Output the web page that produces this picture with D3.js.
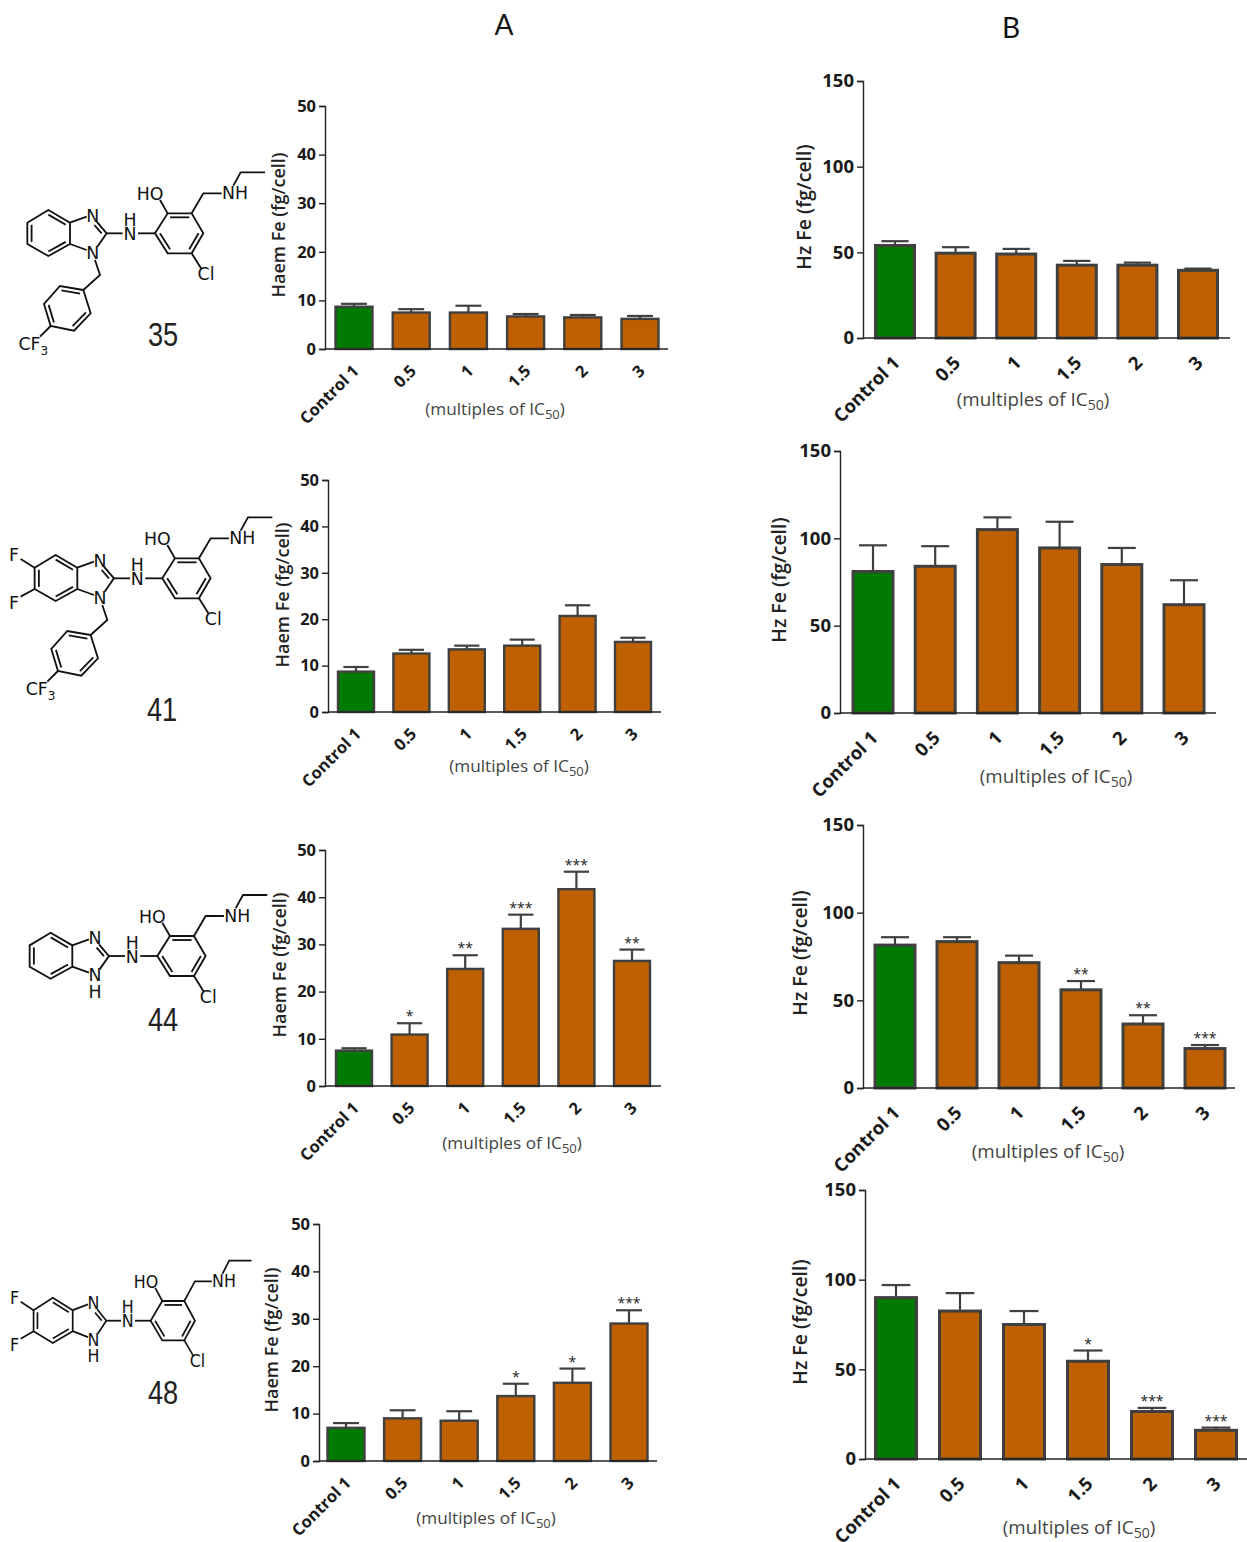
<!DOCTYPE html>
<html>
<head>
  <meta charset="utf-8">
  <title>Haem Fe and Hz Fe</title>
  <style>
    html, body { margin: 0; padding: 0; background: #fff; }
    svg { display: block; }
    text { font-family: "Open Sans", sans-serif; }
    .tick text { font-weight: 700; fill: #1a1a1a; }
    .ytitle { font-weight: 600; fill: #222; text-anchor: middle; }
    .xtitle { fill: #444; text-anchor: middle; }
    .star { font-size: 14px; fill: #222; text-anchor: middle; }
    .col { font-size: 28px; fill: #111; text-anchor: middle; font-family: Lato, sans-serif; }
    .num { font-size: 34px; fill: #222; text-anchor: middle; font-family: "Liberation Sans", sans-serif; }
    .atom { font-size: 52px; fill: #111; text-anchor: middle; font-family: "DejaVu Sans", sans-serif; }
    .sub { font-size: 36px; }
  </style>
</head>
<body>
  <svg id="chart" width="1247" height="1542"></svg>

  <script src="https://d3js.org/d3.v7.min.js"></script>
  <script>
    // categories
    const doses = ["Control 1", "0.5", "1", "1.5", "2", "3"];
    const haemTicks = [0, 10, 20, 30, 40, 50];
    const hzTicks = [0, 50, 100, 150];

    // column A, Haem Fe
    const haem35 = [8.7, 7.5, 7.5, 6.7, 6.5, 6.2];
    const haem35Top = [9.3, 8.2, 8.9, 7.2, 7.0, 6.8];
    const haem41 = [8.7, 12.6, 13.5, 14.3, 20.7, 15.1];
    const haem41Top = [9.7, 13.4, 14.3, 15.6, 23.0, 16.0];
    const haem44 = [7.5, 10.9, 24.8, 33.3, 41.7, 26.5];
    const haem44Top = [8.0, 13.3, 27.7, 36.3, 45.4, 28.9];
    const haem44Stars = ["", "*", "**", "***", "***", "**"];
    const haem48 = [7.0, 9.0, 8.5, 13.7, 16.5, 29.0];
    const haem48Top = [8.0, 10.7, 10.5, 16.3, 19.5, 31.8];
    const haem48Stars = ["", "", "", "*", "*", "***"];

    // column B, Hz Fe
    const hz35 = [54, 49.5, 49, 42.5, 42.5, 39.5];
    const hz35Top = [56.5, 53, 52, 45, 44, 40.5];
    const hz41 = [81, 84, 105, 94.5, 85, 62];
    const hz41Top = [96, 95.5, 112, 109.5, 94.5, 76];
    const hz44 = [81.5, 83.5, 71.5, 56, 36.5, 22.5];
    const hz44Top = [86, 86, 75.5, 61, 41.5, 24.5];
    const hz44Stars = ["", "", "", "**", "**", "***"];
    const hz48 = [90, 82.5, 75, 54.5, 26.5, 16];
    const hz48Top = [97, 92.5, 82.5, 60.5, 28.5, 17.5];
    const hz48Stars = ["", "", "", "*", "***", "***"];

    const noStars = ["", "", "", "", "", ""];

    // text and stroke sizes for each column
    const styleA = { tick: 16.5, yTitle: 18, xTitle: 17.2, sub: 13, stroke: 2.4, labelDy: 23 };
    const styleB = { tick: 18.5, yTitle: 19.5, xTitle: 18.8, sub: 14, stroke: 3, labelDy: 26 };

    // where each panel sits on the page
    const panels = [
      { v: haem35, top: haem35Top, stars: noStars, name: "Haem Fe (fg/cell)", max: 50, ticks: haemTicks, s: styleA, ax: 325, yTop: 106, y0: 349, xEnd: 668, c0: 354, c5: 640, bw: 37, yt: [285, 225], xt: [495, 415] },
      { v: haem41, top: haem41Top, stars: noStars, name: "Haem Fe (fg/cell)", max: 50, ticks: haemTicks, s: styleA, ax: 328, yTop: 480, y0: 712, xEnd: 661, c0: 356, c5: 633, bw: 36, yt: [289, 595], xt: [519, 772] },
      { v: haem44, top: haem44Top, stars: haem44Stars, name: "Haem Fe (fg/cell)", max: 50, ticks: haemTicks, s: styleA, ax: 325, yTop: 850, y0: 1086, xEnd: 661, c0: 354, c5: 632, bw: 36, yt: [286, 965], xt: [512, 1149] },
      { v: haem48, top: haem48Top, stars: haem48Stars, name: "Haem Fe (fg/cell)", max: 50, ticks: haemTicks, s: styleA, ax: 319, yTop: 1224, y0: 1461, xEnd: 657, c0: 346, c5: 629, bw: 37, yt: [278, 1340], xt: [486, 1524] },
      { v: hz35, top: hz35Top, stars: noStars, name: "Hz Fe (fg/cell)", max: 150, ticks: hzTicks, s: styleB, ax: 863, yTop: 81, y0: 338, xEnd: 1230, c0: 895, c5: 1198, bw: 39, yt: [811, 207], xt: [1033, 406] },
      { v: hz41, top: hz41Top, stars: noStars, name: "Hz Fe (fg/cell)", max: 150, ticks: hzTicks, s: styleB, ax: 840, yTop: 451, y0: 713, xEnd: 1216, c0: 873, c5: 1184, bw: 40, yt: [786, 580], xt: [1056, 783] },
      { v: hz44, top: hz44Top, stars: hz44Stars, name: "Hz Fe (fg/cell)", max: 150, ticks: hzTicks, s: styleB, ax: 863, yTop: 825, y0: 1088, xEnd: 1235, c0: 895, c5: 1205, bw: 40, yt: [807, 953], xt: [1048, 1158] },
      { v: hz48, top: hz48Top, stars: hz48Stars, name: "Hz Fe (fg/cell)", max: 150, ticks: hzTicks, s: styleB, ax: 865, yTop: 1190, y0: 1459, xEnd: 1247, c0: 896, c5: 1216, bw: 41, yt: [807, 1322], xt: [1079, 1534] }
    ];

    const svg = d3.select("#chart");

    svg.append("text").attr("class", "col").attr("x", 504).attr("y", 35).text("A");
    svg.append("text").attr("class", "col").attr("x", 1011).attr("y", 38).text("B");

    panels.forEach(p => {
      const step = (p.c5 - p.c0) / 5;
      const gap = 1 - p.bw / step;
      const x = d3.scaleBand().domain(doses)
        .range([p.c0 - step / 2, p.c5 + step / 2])
        .paddingInner(gap).paddingOuter(gap / 2);
      const y = d3.scaleLinear().domain([0, p.max]).range([p.y0, p.yTop]);
      const g = svg.append("g");
      const rows = doses.map((d, i) => ({ dose: d, value: p.v[i], top: p.top[i], star: p.stars[i] }));
      const mid = d => x(d.dose) + x.bandwidth() / 2;

      // error bars go behind the columns
      g.selectAll(".err").data(rows).enter().append("line")
        .attr("x1", mid).attr("x2", mid)
        .attr("y1", d => y(d.value)).attr("y2", d => y(d.top))
        .attr("stroke", "#404040").attr("stroke-width", 2.2);
      g.selectAll(".cap").data(rows).enter().append("line")
        .attr("x1", d => mid(d) - x.bandwidth() * 0.35).attr("x2", d => mid(d) + x.bandwidth() * 0.35)
        .attr("y1", d => y(d.top)).attr("y2", d => y(d.top))
        .attr("stroke", "#404040").attr("stroke-width", 2.2);

      g.selectAll(".bar").data(rows).enter().append("rect")
        .attr("x", d => x(d.dose)).attr("width", x.bandwidth())
        .attr("y", d => y(d.value)).attr("height", d => y(0) - y(d.value))
        .attr("fill", (d, i) => i === 0 ? "#007a00" : "#bf6000")
        .attr("stroke", "#404040").attr("stroke-width", p.s.stroke);

      g.selectAll(".star").data(rows.filter(d => d.star)).enter().append("text")
        .attr("class", "star")
        .attr("x", mid).attr("y", d => y(d.top) - 2)
        .text(d => d.star);

      const yAxis = d3.axisLeft(y).tickValues(p.ticks).tickSize(6).tickPadding(3);
      g.append("g").attr("transform", `translate(${p.ax},0)`).call(yAxis)
        .selectAll(".tick text").style("font-size", p.s.tick + "px");

      // bottom axis runs from the y axis to the end of the panel
      const xLine = g.append("g").attr("transform", `translate(0,${p.y0})`).call(d3.axisBottom(x).tickSize(0).tickPadding(0));
      xLine.select(".domain").attr("d", `M${p.ax},0H${p.xEnd}`);
      xLine.selectAll(".tick text")
        .style("font-size", p.s.tick + "px")
        .attr("text-anchor", "end")
        .attr("dy", 0).attr("y", 0)
        .attr("transform", `translate(6,${p.s.labelDy}) rotate(-45)`);

      g.selectAll(".domain, .tick line").attr("stroke", "#222").attr("stroke-width", 1.4);

      g.append("text").attr("class", "ytitle")
        .style("font-size", p.s.yTitle + "px")
        .attr("transform", `translate(${p.yt[0]},${p.yt[1]}) rotate(-90)`)
        .text(p.name);

      const xt = g.append("text").attr("class", "xtitle")
        .style("font-size", p.s.xTitle + "px")
        .attr("x", p.xt[0]).attr("y", p.xt[1]);
      xt.append("tspan").text("(multiples of IC");
      xt.append("tspan").attr("font-size", p.s.sub).attr("dy", 4).text("50");
      xt.append("tspan").attr("dy", -4).text(")");
    });

    // compound structures, drawn at 3x and scaled down
    const benzo = [[145, 180], [82, 218], [82, 282], [145, 318], [210, 282], [210, 218]];
    const phenol = [[465, 250], [503, 190], [575, 190], [610, 250], [575, 310], [503, 310]];
    const benzyl = [[250, 420], [180, 408], [132, 462], [152, 528], [222, 542], [272, 490]];

    function ring(g, pts, doubles) {
      const cx = d3.mean(pts, d => d[0]), cy = d3.mean(pts, d => d[1]);
      g.append("path").attr("d", d3.line()(pts) + "Z");
      doubles.forEach(i => {
        const a = pts[i], b = pts[(i + 1) % pts.length];
        const inner = q => [q[0] + (cx - q[0]) * 0.2, q[1] + (cy - q[1]) * 0.2];
        g.append("path").attr("d", d3.line()([inner(a), inner(b)]));
      });
    }

    function bond(g, pts) {
      g.append("path").attr("d", d3.line()(pts));
    }

    function atom(g, x, y, label, sub) {
      const t = g.append("text").attr("class", "atom").attr("x", x).attr("y", y).text(label);
      if (sub) t.append("tspan").attr("class", "sub").attr("dy", 14).text(sub);
    }

    function drawCompound(tx, ty, kx, ky, opts) {
      const g = svg.append("g").attr("transform", `translate(${tx},${ty}) scale(${kx},${ky})`)
        .attr("fill", "none").attr("stroke", "#111").attr("stroke-width", 5.5);
      const lines = g.append("g");
      const labels = g.append("g").attr("stroke", "none");

      ring(lines, benzo, [1, 3, 5]);
      ring(lines, phenol, [1, 3, 5]);

      // imidazole and the links out to the phenol ring
      bond(lines, [[210, 218], [260, 200]]);
      bond(lines, [[210, 282], [260, 300]]);
      bond(lines, [[290, 215], [320, 250], [292, 290]]);
      bond(lines, [[283, 225], [305, 250]]);
      bond(lines, [[320, 250], [368, 250]]);
      bond(lines, [[414, 250], [465, 250]]);
      bond(lines, [[503, 190], [480, 150]]);
      bond(lines, [[575, 190], [610, 130], [665, 130]]);
      bond(lines, [[700, 107], [722, 67], [795, 67]]);
      bond(lines, [[575, 310], [605, 358]]);

      atom(labels, 278, 215, "N");
      atom(labels, 390, 270, "N");
      atom(labels, 390, 228, "H");
      atom(labels, 450, 150, "HO");
      atom(labels, 705, 148, "NH");
      atom(labels, 618, 391, "Cl");
      atom(labels, 278, 326, "N");

      if (opts.benzyl) {
        bond(lines, [[285, 330], [300, 375], [250, 420]]);
        ring(lines, benzyl, [0, 2, 4]);
        bond(lines, [[152, 528], [120, 560]]);
        atom(labels, 100, 601, "CF", "3");
      } else {
        atom(labels, 278, 376, "H");
      }
      if (opts.fluoro) {
        bond(lines, [[82, 218], [40, 192]]);
        bond(lines, [[82, 282], [40, 305]]);
        atom(labels, 20, 198, "F");
        atom(labels, 20, 341, "F");
      }
    }

    drawCompound(0, 150, 1 / 3, 1 / 3, { benzyl: true });
    drawCompound(7.3, 495, 1 / 3, 1 / 3, { benzyl: true, fluoro: true });
    drawCompound(2.3, 872.7, 1 / 3, 1 / 3, {});
    drawCompound(8.5, 1238.7, 0.3057, 0.328, { fluoro: true });

    // compound numbers, squeezed because no narrow font is installed
    const compounds = ["35", "41", "44", "48"];
    const numberAt = [[163, 346], [162, 721], [163, 1031], [163, 1404]];
    compounds.forEach((c, i) => {
      svg.append("text").attr("class", "num")
        .attr("transform", `translate(${numberAt[i][0]},${numberAt[i][1]}) scale(0.8,1)`)
        .text(c);
    });
  </script>
</body>
</html>
